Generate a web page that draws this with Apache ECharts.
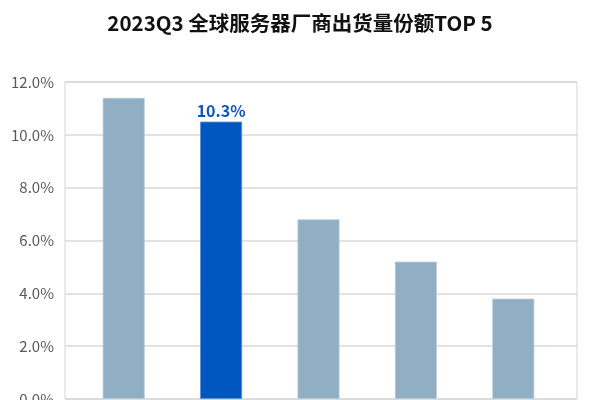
<!DOCTYPE html>
<html>
<head>
  <meta charset="utf-8">
  <style>
    html, body { margin: 0; padding: 0; background: #fff; }
  </style>
</head>
<body>
  <div id="main" style="width: 600px; height: 400px"></div>
</body>
<script src="https://cdn.jsdelivr.net/npm/echarts@6/dist/echarts.min.js"></script>
<script>
  var vendors = ['戴尔', '浪潮', 'HPE', '联想', '超聚变'];
  var shares = [11.4, 10.5, 6.8, 5.2, 3.8];
  var shareLabels = ['', '10.3%', '', '', ''];
  var highlight = 1;
  var yTicks = [0, 2, 4, 6, 8, 10, 12];

  var chart = echarts.init(document.getElementById('main'));
  var font = '"Noto Sans CJK SC", "Noto Sans", sans-serif';

  chart.setOption({
    animation: false,
    title: {
      text: '2023Q3 全球服务器厂商出货量份额TOP 5',
      left: 'center',
      top: 8,
      textStyle: { fontFamily: font, fontSize: 20.5, fontWeight: 'bold', color: '#111' }
    },
    grid: [
      // frame + gridlines
      { left: 65, right: 23, top: 82, bottom: 1, outerBoundsMode: 'none',
        show: true, borderColor: '#d4d4d4', borderWidth: 1 },
      // bars sit a bit inside the frame
      { left: 75, right: 38, top: 82, bottom: 1, outerBoundsMode: 'none' }
    ],
    xAxis: [
      { gridIndex: 0, type: 'category', data: [''], show: false },
      { gridIndex: 1, type: 'category', data: vendors, axisLine: { show: false },
        axisTick: { show: false }, axisLabel: { show: false } }
    ],
    yAxis: [
      {
        gridIndex: 0, type: 'value', min: yTicks[0], max: yTicks[yTicks.length - 1], interval: 2,
        axisLine: { show: false }, axisTick: { show: false },
        axisLabel: {
          margin: 11, fontFamily: font, fontSize: 15, color: '#595959',
          formatter: function (v) { return v.toFixed(1) + '%'; }
        },
        splitLine: { lineStyle: { color: '#d9d9d9', width: 1.5 } }
      },
      { gridIndex: 1, type: 'value', min: 0, max: 12, interval: 2, show: false }
    ],
    series: [{
      type: 'bar',
      xAxisIndex: 1,
      yAxisIndex: 1,
      barWidth: 42,
      data: shares.map(function (v, i) {
        return {
          value: v,
          itemStyle: {
            color: i === highlight ? '#0057bf' : '#91afc4',
            borderColor: i === highlight ? '#5d8fd6' : '#b6cbd9',
            borderWidth: 0.8
          },
          label: {
            show: shareLabels[i] !== '',
            position: 'top',
            distance: 3,
            formatter: shareLabels[i],
            fontFamily: font,
            fontSize: 16,
            fontWeight: 'bold',
            color: '#0a57c0'
          }
        };
      })
    }]
  });
</script>
</html>
